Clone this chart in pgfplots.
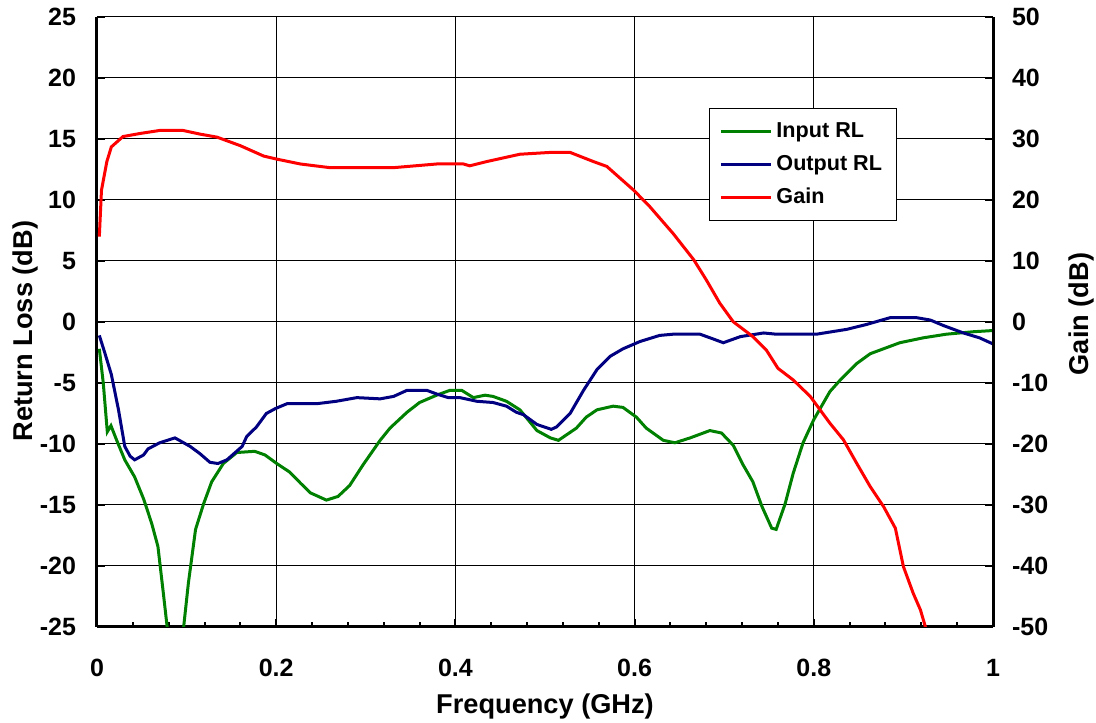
\documentclass[border=0pt]{standalone}
\usepackage{fontspec}
\setmainfont{Liberation Sans}
\usepackage{pgfplots}
\pgfplotsset{compat=1.18}
\definecolor{rlgreen}{RGB}{0,128,0}
\definecolor{rlblue}{RGB}{0,0,128}
\definecolor{gainred}{RGB}{255,0,0}

\pgfplotsset{
  common/.style={
    scale only axis, width=448pt, height=305pt,
    xmin=0, xmax=1,
    tick align=inside,
    major tick length=4pt,
    minor tick length=2.5pt,
    tick style={black, line width=1pt},
    axis line style={-, black, line width=1.5pt},
    tick label style={font=\bfseries\fontsize{12.5}{12.5}\selectfont},
    label style={font=\bfseries\fontsize{13.6}{14}\selectfont},
  }
}

\begin{document}
\begin{tikzpicture}
\begin{axis}[common, name=ax,
  axis x line*=bottom, axis y line*=left,
  ymin=-25, ymax=25,
  xtick={0,0.2,0.4,0.6,0.8,1},
  xticklabels={0,0.2,0.4,0.6,0.8,1},
  minor x tick num=4,
  ytick={-25,-20,-15,-10,-5,0,5,10,15,20,25},
  yticklabels={-25,-20,-15,-10,-5,0,5,10,15,20,25},
  xticklabel style={yshift=-12.5pt},
  yticklabel style={xshift=-7pt},
  grid=major, major grid style={black, line width=0.5pt},
  xlabel={Frequency (GHz)}, ylabel={Return Loss (dB)},
  xlabel style={at={(axis description cs:0.5,-0.131)}, anchor=center},
  ylabel style={at={(axis description cs:-0.08,0.485)}, anchor=center},
]
% Input RL
\addplot[rlgreen, line width=1.5pt] coordinates {
(0.0026,-2.2) (0.007,-5.0) (0.0115,-9.0) (0.0156,-8.5) (0.022,-9.7) (0.031,-11.3)
(0.042,-12.7) (0.052,-14.5) (0.061,-16.5) (0.068,-18.4) (0.074,-22.2) (0.078,-24.8)
(0.082,-28) (0.088,-31) (0.093,-28) (0.097,-24.8) (0.102,-21.4) (0.110,-17.0)
(0.119,-14.9) (0.128,-13.1) (0.141,-11.6) (0.156,-10.7) (0.176,-10.6) (0.1875,-10.9)
(0.2006,-11.6) (0.215,-12.3) (0.227,-13.2) (0.238,-14.0) (0.256,-14.6) (0.269,-14.3)
(0.282,-13.4) (0.297,-11.7) (0.316,-9.7) (0.327,-8.7) (0.346,-7.4) (0.360,-6.6)
(0.379,-6.0) (0.394,-5.6) (0.407,-5.6) (0.420,-6.2) (0.433,-6.0) (0.442,-6.1)
(0.457,-6.5) (0.472,-7.2) (0.491,-8.9) (0.506,-9.5) (0.515,-9.7) (0.535,-8.7)
(0.546,-7.8) (0.558,-7.2) (0.576,-6.9) (0.587,-7.0) (0.602,-7.8) (0.613,-8.7)
(0.632,-9.7) (0.645,-9.9) (0.662,-9.5) (0.684,-8.9) (0.697,-9.1) (0.710,-10.1)
(0.721,-11.7) (0.732,-13.1) (0.742,-15.1) (0.753,-16.9) (0.758,-17.0) (0.768,-14.9)
(0.777,-12.4) (0.788,-9.9) (0.800,-8.0) (0.818,-5.7) (0.829,-4.8) (0.848,-3.4)
(0.863,-2.6) (0.896,-1.7) (0.922,-1.3) (0.948,-1.0) (0.978,-0.8) (1.0,-0.7)
};
% Output RL
\addplot[rlblue, line width=1.5pt] coordinates {
(0.0026,-1.1) (0.009,-2.6) (0.016,-4.3) (0.024,-7.2) (0.031,-10.2) (0.037,-11.0)
(0.042,-11.3) (0.052,-10.9) (0.057,-10.4) (0.070,-9.9) (0.087,-9.5) (0.104,-10.2)
(0.115,-10.8) (0.126,-11.5) (0.135,-11.6) (0.145,-11.3) (0.162,-10.2) (0.167,-9.4)
(0.178,-8.6) (0.189,-7.5) (0.199,-7.1) (0.212,-6.7) (0.245,-6.7) (0.267,-6.5)
(0.290,-6.2) (0.316,-6.3) (0.331,-6.1) (0.346,-5.6) (0.368,-5.6) (0.379,-5.9)
(0.392,-6.2) (0.405,-6.2) (0.424,-6.5) (0.442,-6.6) (0.457,-6.9) (0.468,-7.4)
(0.476,-7.6) (0.491,-8.4) (0.507,-8.8) (0.513,-8.6) (0.528,-7.5) (0.543,-5.6)
(0.558,-3.9) (0.573,-2.8) (0.587,-2.2) (0.606,-1.6) (0.628,-1.1) (0.643,-1.0)
(0.673,-1.0) (0.688,-1.4) (0.699,-1.7) (0.718,-1.2) (0.744,-0.9) (0.758,-1.0)
(0.803,-1.0) (0.837,-0.6) (0.859,-0.2) (0.885,0.35) (0.915,0.35) (0.930,0.16)
(0.945,-0.3) (0.967,-0.9) (0.985,-1.3) (1.0,-1.8)
};
\end{axis}

\begin{axis}[common,
  axis x line=none, axis y line*=right,
  ymin=-50, ymax=50,
  ytick={-50,-40,-30,-20,-10,0,10,20,30,40,50},
  yticklabels={-50,-40,-30,-20,-10,0,10,20,30,40,50},
  yticklabel style={xshift=6pt},
  ylabel={Gain (dB)},
  ylabel style={at={(axis description cs:1.099,0.513)}, anchor=center},
  legend style={at={(0.683,0.851)}, anchor=north west, draw=black, line width=0.5pt,
    font=\bfseries\fontsize{10.8}{10.8}\selectfont, row sep=3.5pt,
    inner xsep=5pt, inner ysep=5pt},
  legend cell align=left,
  legend image code/.code={\draw[#1] (0pt,0pt) -- (25pt,0pt);},
]
\addlegendimage{rlgreen, line width=1.5pt}
\addlegendentry{Input RL}
\addlegendimage{rlblue, line width=1.5pt}
\addlegendentry{Output RL}
% Gain
\addplot[gainred, line width=1.5pt] coordinates {
(0.0026,14.0) (0.005,21.6) (0.011,26.3) (0.016,28.7) (0.029,30.4) (0.048,30.9)
(0.070,31.4) (0.096,31.4) (0.115,30.8) (0.134,30.3) (0.160,28.9) (0.186,27.2)
(0.2006,26.7) (0.227,25.9) (0.260,25.3) (0.331,25.3) (0.379,25.9) (0.409,25.9)
(0.416,25.6) (0.435,26.3) (0.472,27.5) (0.506,27.8) (0.528,27.8) (0.554,26.3)
(0.569,25.5) (0.599,21.6) (0.617,18.9) (0.643,14.5) (0.666,10.2) (0.680,6.9)
(0.695,3.1) (0.710,0.05) (0.732,-2.4) (0.747,-4.6) (0.760,-7.6) (0.777,-9.5)
(0.796,-12.2) (0.818,-16.6) (0.833,-19.3) (0.848,-23.2) (0.863,-27.0) (0.878,-30.3)
(0.891,-33.8) (0.900,-40.1) (0.911,-44.5) (0.919,-47.2) (0.924,-49.7) (0.926,-51)
};
\addlegendentry{Gain}
\end{axis}
\pgfresetboundingbox
\path[use as bounding box] ([shift={(-48.5pt,-48pt)}]ax.south west) rectangle ([shift={(51.5pt,8.5pt)}]ax.north east);
\end{tikzpicture}
\end{document}
